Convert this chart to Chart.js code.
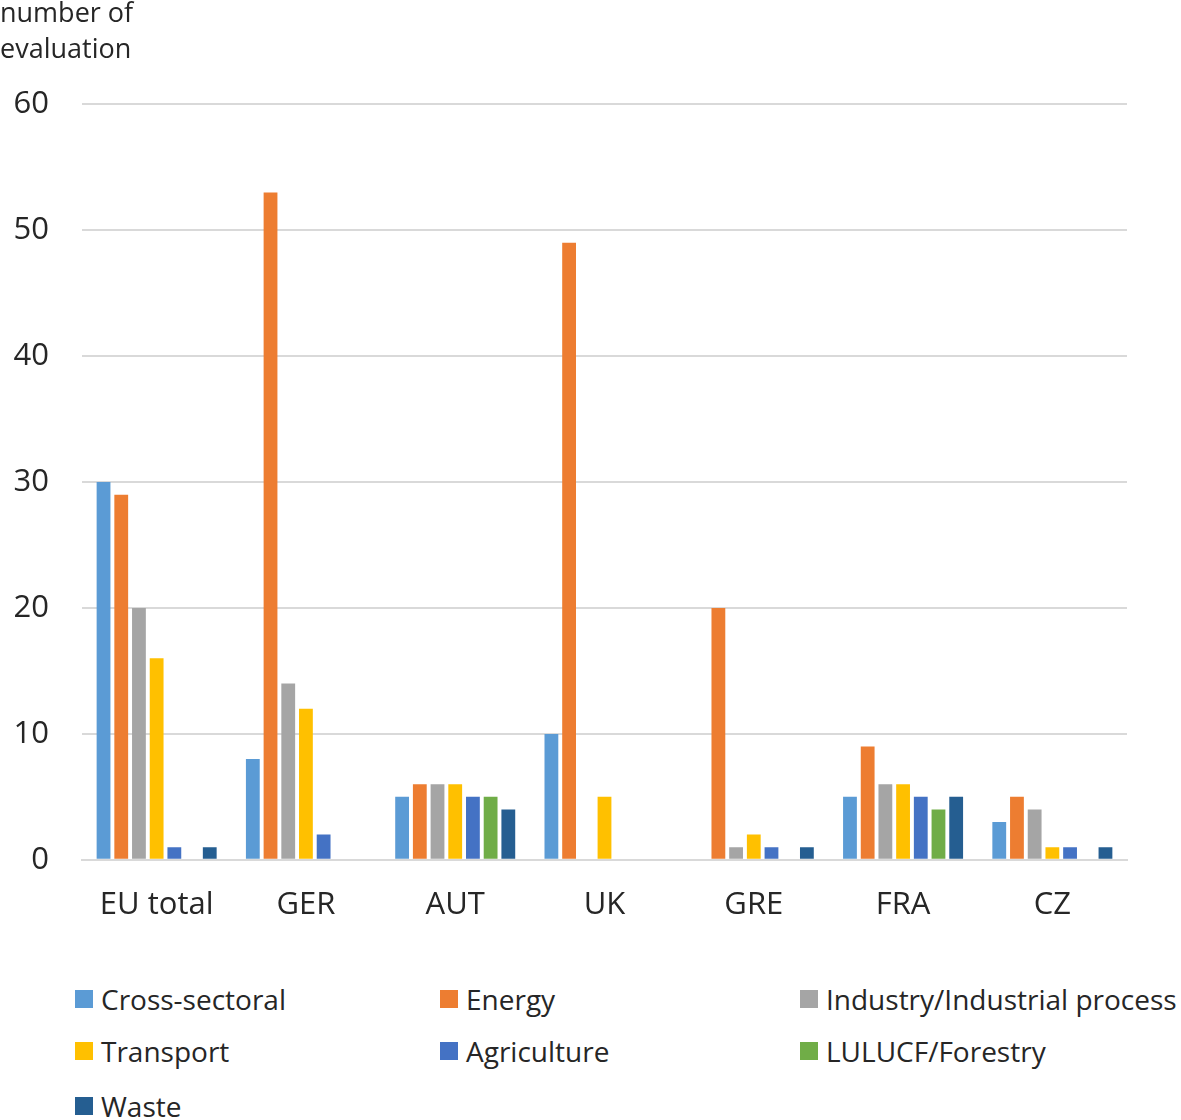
<!DOCTYPE html>
<html>
<head>
<meta charset="utf-8">
<script src="https://cdn.jsdelivr.net/npm/chart.js@4/dist/chart.umd.min.js"></script>
<style>
  html, body { margin: 0; padding: 0; background: #fff; }
  #wrap { position: relative; width: 1181px; height: 960px; }
  #legend { position: absolute; left: 0; top: 980px; width: 1181px; font-family: "Open Sans", sans-serif; font-size: 28px; color: #262626; }
  .item { position: absolute; display: flex; align-items: center; white-space: nowrap; }
  .sw { width: 18px; height: 18px; margin-right: 8px; }
</style>
</head>
<body>
<div id="wrap"><canvas id="c" width="1181" height="960"></canvas></div>
<div id="legend"></div>
<script>
const categories = ["EU total", "GER", "AUT", "UK", "GRE", "FRA", "CZ"];
const seriesNames = ["Cross-sectoral", "Energy", "Industry/Industrial process", "Transport", "Agriculture", "LULUCF/Forestry", "Waste"];
const crossSectoral = [30, 8, 5, 10, 0, 5, 3];
const energy        = [29, 53, 6, 49, 20, 9, 5];
const industry      = [20, 14, 6, 0, 1, 6, 4];
const transport     = [16, 12, 6, 5, 2, 6, 1];
const agriculture   = [1, 2, 5, 0, 1, 5, 1];
const lulucf        = [0, 0, 5, 0, 0, 4, 0];
const waste         = [1, 0, 4, 0, 1, 5, 1];
const yTicks = [0, 10, 20, 30, 40, 50, 60];
const colors = ["#5B9BD5", "#ED7D31", "#A5A5A5", "#FFC000", "#4472C4", "#70AD47", "#255E91"];
const values = [crossSectoral, energy, industry, transport, agriculture, lulucf, waste];

const FONT = "'Open Sans', sans-serif";
const datasets = seriesNames.map((n, i) => ({
  label: n, data: values[i], backgroundColor: colors[i],
  categoryPercentage: 0.83, barPercentage: 0.78
}));

new Chart(document.getElementById('c'), {
  type: 'bar',
  data: { labels: categories, datasets },
  options: {
    responsive: false, animation: false,
    layout: { padding: { left: 0, right: 54, top: 0, bottom: 9 } },
    plugins: {
      legend: { display: false },
      tooltip: { enabled: false },
      title: {
        display: true, text: ["number of", "evaluation"], align: 'start',
        color: '#262626', font: { family: FONT, size: 27, weight: 'normal', lineHeight: 1.34 },
        padding: { top: -4, bottom: 36 }
      }
    },
    scales: {
      x: {
        grid: { display: false, drawTicks: false },
        border: { display: true, color: '#D9D9D9', width: 2 },
        ticks: { color: '#262626', font: { family: FONT, size: 31 }, padding: 27 }
      },
      y: {
        min: 0, max: 60,
        afterFit: s => { s.width = 82; },
        afterBuildTicks: s => { s.ticks = yTicks.map(v => ({ value: v })); },
        grid: { color: '#D9D9D9', lineWidth: 2, drawTicks: false },
        border: { display: false },
        ticks: { color: '#262626', font: { family: FONT, size: 31 }, padding: 33 }
      }
    }
  }
});

const lg = document.getElementById('legend');
const colX = [75, 440, 800];
const rowY = [0, 52, 107];
seriesNames.forEach((n, i) => {
  const d = document.createElement('div');
  d.className = 'item';
  d.style.left = colX[i % 3] + 'px';
  d.style.top = rowY[Math.floor(i / 3)] + 'px';
  d.innerHTML = '<span class="sw" style="background:' + colors[i] + '"></span><span></span>';
  d.lastChild.textContent = n;
  lg.appendChild(d);
});
</script>
</body>
</html>
